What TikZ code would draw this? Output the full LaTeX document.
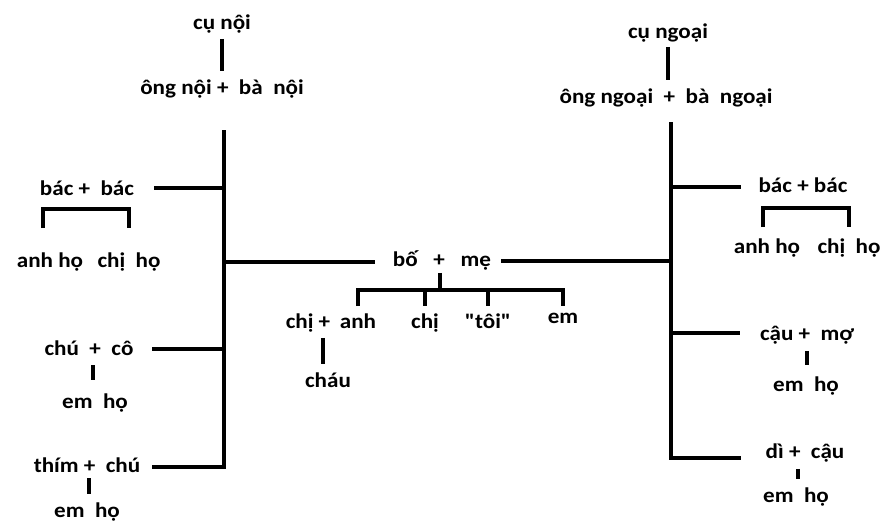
\documentclass[tikz,border=0pt]{standalone}
\usepackage{fontspec}
\setmainfont{Carlito}[FakeStretch=1.1,Ligatures=TeXOff]
\begin{document}
\begin{tikzpicture}
  [x=1pt,y=-1pt,
   every node/.style={anchor=base,inner sep=0pt,font=\fontsize{21}{24}\selectfont\bfseries},
   line/.style={line width=3.5pt}]

  \useasboundingbox (0,0) rectangle (883,523);

  % ben noi
  \node (cunoi) at (222,29) {cụ nội};
  \node (ongnoi) at (222,94) {ông nội +\ \ bà\ \ nội};

  \draw[line,shorten <=6pt,shorten >=8pt] (cunoi.south) -- (cunoi.south |- ongnoi.north);

  \coordinate (ltop) at (224,130);
  \coordinate (lbac) at (224,188);
  \coordinate (lmid) at (224,262);
  \coordinate (lchu) at (224,349);
  \coordinate (lbot) at (224,467);

  \node (bacL) at (87,195) {bác +\ \ bác};
  \node (anhL) at (50,267) {anh họ};
  \node (chiL) at (129,267) {chị\ \ họ};

  \node (chuL) at (89,355) {chú\ \ +\ \ cô};
  \node (emL1) at (95,408) {em\ \ họ};

  \node (thimL) at (87,472) {thím +\ \ chú};
  \node (emL2) at (87,517) {em\ \ họ};

  \draw[line,shorten >=12pt] (ltop) -- (lbot) -- (lbot -| thimL.east);
  \draw[line,shorten >=20pt] (lbac) -- (lbac -| bacL.east);
  \draw[line,shorten >=18pt] (lchu) -- (lchu -| chuL.east);

  \draw[line] ([xshift=-7pt,yshift=24pt]anhL.north) |- ([yshift=43pt]chiL.north)
    -- ([yshift=24pt]chiL.north);
  \draw[line,shorten <=10pt,shorten >=13pt] ([xshift=4pt]chuL.south) -- ([xshift=4pt]chuL.south |- emL1.north);
  \draw[line,shorten <=6pt,shorten >=8pt] ([xshift=2pt]thimL.south) -- ([xshift=2pt]thimL.south |- emL2.north);

  % gia dinh
  \node (bome) at (442,266) {bố\hspace{0.75em}+\hspace{0.75em}mẹ};

  \node (chidau) at (308,328) {chị +};
  \node (anh) at (358,328) {anh};
  \node (chi) at (425,328) {chị};
  \node (toi) at (488,328) {"tôi"};
  \node (em) at (563,323) {em};
  \node (chau) at (328,387) {cháu};

  \coordinate (bm) at (440,290);
  \coordinate (kd) at (440,306);

  \draw[line,shorten <=3pt] (bome.south -| bm) -- (bm);
  \draw[line] (anh.north |- kd) |- (em.north |- bm) -- (em.north |- kd);
  \foreach \k in {chi,toi}
    \draw[line] (\k.north |- bm) -- (\k.north |- kd);
  \draw[line,shorten <=6pt,shorten >=8pt] ([xshift=15pt]chidau.south) -- ([xshift=15pt]chidau.south |- chau.north);

  \draw[line,shorten >=18pt] (lmid) -- (lmid -| bome.west);

  % ben ngoai
  \node (cungoai) at (668,38) {cụ ngoại};
  \node (ongngoai) at (666,103) {ông ngoại\ \ +\ \ bà\ \ ngoại};

  \draw[line,shorten <=5pt,shorten >=8pt] (cungoai.south) -- (cungoai.south |- ongngoai.north);

  \coordinate (rtop) at (671,122);
  \coordinate (rbac) at (671,187);
  \coordinate (rmid) at (671,261);
  \coordinate (rcau) at (671,333);
  \coordinate (rbot) at (671,458);

  \node (bacR) at (803,192) {bác\ +\ bác};
  \node (anhR) at (767,253) {anh họ};
  \node (chiR) at (849,253) {chị\ \ họ};

  \node (caumo) at (807,340) {cậu\ +\ \ mợ};
  \node (emR1) at (806,391) {em\ \ họ};

  \node (dicau) at (805,458) {dì\ +\ \ cậu};
  \node (emR2) at (796,502) {em\ \ họ};

  \draw[line,shorten >=25pt] (rtop) -- (rbot) -- (rbot -| dicau.west);
  \draw[line,shorten >=17pt] (rbac) -- (rbac -| bacR.west);
  \draw[line,shorten >=20pt] (rcau) -- (rcau -| caumo.west);
  \draw[line,shorten >=10pt] (rmid) -- (rmid -| bome.east);

  \draw[line] ([xshift=-4pt,yshift=11pt]anhR.north) |- ([yshift=30pt]chiR.north)
    -- ([yshift=11pt]chiR.north);
  \draw[line,shorten <=7pt,shorten >=11pt] (caumo.south) -- (caumo.south |- emR1.north);
  \draw[line,shorten <=7pt,shorten >=8pt] ([xshift=-7pt]dicau.south) -- ([xshift=-7pt]dicau.south |- emR2.north);
\end{tikzpicture}
\end{document}
